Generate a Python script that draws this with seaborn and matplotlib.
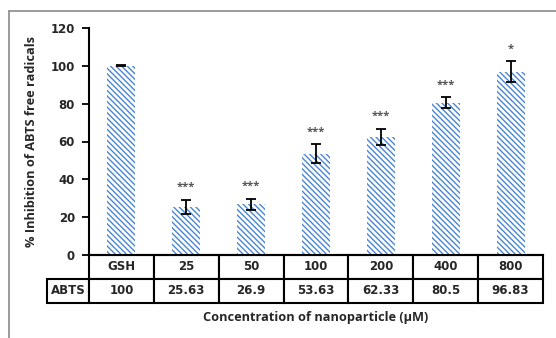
import matplotlib
matplotlib.use("Agg")
import matplotlib.pyplot as plt
import seaborn as sns
import pandas as pd
from matplotlib.lines import Line2D

# ---- data ----
categories = ["GSH", "25", "50", "100", "200", "400", "800"]
inhibition = [100, 25.63, 26.9, 53.63, 62.33, 80.5, 96.83]
errors = [0.3, 3.7, 2.9, 5.0, 4.4, 3.0, 5.5]
significance = ["", "***", "***", "***", "***", "***", "*"]
table_labels = ["100", "25.63", "26.9", "53.63", "62.33", "80.5", "96.83"]
row_label = "ABTS"
y_ticks = [0, 20, 40, 60, 80, 100, 120]

sns.set_theme(style="white")
plt.rcParams["font.family"] = ["DejaVu Sans"]
plt.rcParams["hatch.linewidth"] = 1.0

W, H = 556, 338
fig = plt.figure(figsize=(W / 100, H / 100), dpi=100)
ax = fig.add_axes([89 / W, 1 - 255 / H, 454 / W, 227 / H])

df = pd.DataFrame({"cat": categories, "val": inhibition})
blue = "#4a86d2"
HATCH = "\\" * 6
sns.barplot(data=df, x="cat", y="val", order=categories, ax=ax,
            color="white", width=0.43, errorbar=None,
            edgecolor=blue, linewidth=0, hatch=HATCH)
for p in ax.patches:
    p.set_hatch(HATCH)
    p.set_edgecolor(blue)
    p.set_linewidth(0)

xs = list(range(len(categories)))
ax.errorbar(xs, inhibition, yerr=errors, fmt="none", ecolor="black",
            elinewidth=1.3, capsize=3.5, capthick=1.3)
for x, v, e, s in zip(xs, inhibition, errors, significance):
    if s:
        ax.text(x, v + e + 3.5, s, ha="center", va="bottom",
                fontsize=8, color="#555555", fontweight="bold",
                family=["Open Sans", "DejaVu Sans"])

ax.set_ylim(0, 120)
ax.set_xlim(-0.5, len(categories) - 0.5)
ax.set_yticks(y_ticks)
ax.set_yticklabels([str(t) for t in y_ticks], fontweight="bold", fontsize=8.5)
ax.tick_params(axis="y", length=5, width=1.3, color="black", direction="out",
               left=True, pad=5)
ax.set_xticks([])
ax.set_xlabel("")
ax.set_ylabel("% Inhibition of ABTS free radicals", fontweight="bold",
              fontsize=9.2, labelpad=9, family=["Open Sans", "DejaVu Sans"])
for side in ["top", "right"]:
    ax.spines[side].set_visible(False)
for side in ["left", "bottom"]:
    ax.spines[side].set_color("black")
    ax.spines[side].set_linewidth(1.5)

# table under axis
lab_w = 42 / 454
col_w = 1 / len(categories)
cell_text = [[""] + categories, [row_label] + table_labels]
tbl = ax.table(cellText=cell_text, colWidths=[lab_w] + [col_w] * len(categories),
               cellLoc="center", bbox=[-lab_w, -48 / 227, 1 + lab_w, 48 / 227])
tbl.auto_set_font_size(False)
for (r, c), cell in tbl.get_celld().items():
    cell.set_linewidth(1.5)
    cell.set_edgecolor("black")
    cell.get_text().set_fontsize(8.5)
    cell.get_text().set_fontweight("bold")
    if r == 0 and c == 0:
        cell.visible_edges = "open"

ax.text(0.5, (255 - 317) / 227, "Concentration of nanoparticle (\u03bcM)",
        transform=ax.transAxes, ha="center", va="center",
        fontsize=9.2, fontweight="bold", family=["Open Sans", "DejaVu Sans"])

# outer gray frame (top & left)
gray = "#8a8a8a"
fig.add_artist(Line2D([9 / W, 9 / W], [0, 1 - 11 / H], color=gray, lw=1.2))
fig.add_artist(Line2D([9 / W, 1], [1 - 11 / H, 1 - 11 / H], color=gray, lw=1.2))

fig.savefig("out.png", dpi=100, facecolor="white")
